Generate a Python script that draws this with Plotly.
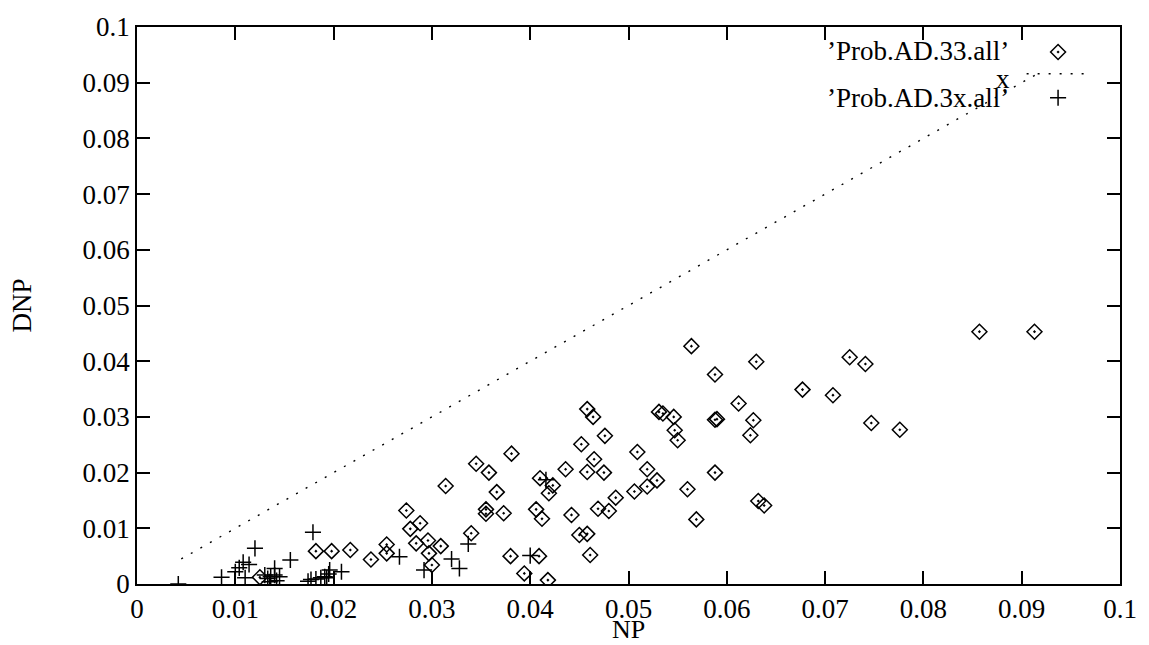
import plotly.graph_objects as go

# ---- data: 'Prob.AD.33.all' (diamonds) ----
np33_x = [0.0857, 0.0913, 0.0725, 0.0741, 0.0677, 0.0708, 0.0747, 0.0776, 0.0564, 0.0630,
          0.0588, 0.0612, 0.0531, 0.0535, 0.0546, 0.0588, 0.0590, 0.0627, 0.0547, 0.0550,
          0.0624, 0.0476, 0.0509, 0.0475, 0.0519, 0.0529, 0.0519, 0.0506, 0.0588, 0.0560,
          0.0487, 0.0480, 0.0632, 0.0638, 0.0569, 0.0458, 0.0464, 0.0452, 0.0465, 0.0381,
          0.0345, 0.0358, 0.0436, 0.0458, 0.0314, 0.0410, 0.0423, 0.0419, 0.0366, 0.0274,
          0.0288, 0.0278, 0.0284, 0.0296, 0.0309, 0.0297, 0.0300, 0.0254, 0.0254, 0.0238,
          0.0340, 0.0355, 0.0355, 0.0373, 0.0406, 0.0412, 0.0442, 0.0469, 0.0450, 0.0458,
          0.0461, 0.0380, 0.0409, 0.0394, 0.0418, 0.0182, 0.0198, 0.0217, 0.0125]
dnp33_y = [0.0453, 0.0453, 0.0407, 0.0395, 0.0349, 0.0339, 0.0289, 0.0277, 0.0427, 0.0399,
           0.0376, 0.0324, 0.0309, 0.0306, 0.0300, 0.0295, 0.0296, 0.0294, 0.0276, 0.0258,
           0.0267, 0.0266, 0.0237, 0.0200, 0.0206, 0.0186, 0.0175, 0.0166, 0.0200, 0.0170,
           0.0155, 0.0131, 0.0149, 0.0141, 0.0116, 0.0314, 0.0300, 0.0251, 0.0224, 0.0234,
           0.0216, 0.0200, 0.0206, 0.0201, 0.0176, 0.0190, 0.0177, 0.0163, 0.0165, 0.0132,
           0.0109, 0.0099, 0.0073, 0.0078, 0.0068, 0.0055, 0.0034, 0.0071, 0.0055, 0.0044,
           0.0091, 0.0134, 0.0126, 0.0127, 0.0134, 0.0117, 0.0124, 0.0135, 0.0088, 0.0090,
           0.0052, 0.0050, 0.0050, 0.0019, 0.0007, 0.0059, 0.0059, 0.0061, 0.0012]

# ---- data: 'Prob.AD.3x.all' (plus signs) ----
np3x_x = [0.0042, 0.0086, 0.0120, 0.0100, 0.0104, 0.0108, 0.0114, 0.0110, 0.0130, 0.0133,
          0.0136, 0.0140, 0.0140, 0.0135, 0.0142, 0.0145, 0.0156, 0.0179, 0.0174, 0.0177,
          0.0182, 0.0187, 0.0191, 0.0195, 0.0196, 0.0208, 0.0193, 0.0267, 0.0292, 0.0320,
          0.0328, 0.0337, 0.0400, 0.0416]
dnp3x_y = [0.0000, 0.0012, 0.0064, 0.0022, 0.0029, 0.0039, 0.0035, 0.0011, 0.0016, 0.0010,
           0.0013, 0.0016, 0.0028, 0.0004, 0.0006, 0.0013, 0.0043, 0.0093, 0.0005, 0.0008,
           0.0009, 0.0011, 0.0013, 0.0018, 0.0025, 0.0022, 0.0011, 0.0049, 0.0025, 0.0045,
           0.0028, 0.0072, 0.0051, 0.0187]

# ---- data: reference line y = x ----
line_x = [0.0045, 0.0916]
line_y = [0.0045, 0.0916]

tick_vals = [0, 0.01, 0.02, 0.03, 0.04, 0.05, 0.06, 0.07, 0.08, 0.09, 0.1]
tick_text = ["0", "0.01", "0.02", "0.03", "0.04", "0.05", "0.06", "0.07", "0.08", "0.09", "0.1"]

legend_labels = ["\u2019Prob.AD.33.all\u2019", "\u2019Prob.AD.3x.all\u2019", "x"]
x_title = "NP"
y_title = "DNP"

FONT = "Liberation Serif"
FS = 27

fig = go.Figure()

fig.add_trace(go.Scatter(
    x=line_x, y=line_y, mode="lines",
    line=dict(color="black", width=1.4, dash="2px,9px"),
    showlegend=False, hoverinfo="skip"))

fig.add_trace(go.Scatter(
    x=np33_x, y=dnp33_y, mode="markers",
    marker=dict(symbol="diamond-open-dot", size=11.5, color="black",
                line=dict(color="black", width=1.5)),
    showlegend=False))

fig.add_trace(go.Scatter(
    x=np3x_x, y=dnp3x_y, mode="markers",
    marker=dict(symbol="cross-thin-open", size=11.5, color="black",
                line=dict(color="black", width=1.5)),
    showlegend=False))

# key samples (gnuplot style: label then sample)
fig.add_trace(go.Scatter(
    x=[0.0937], y=[0.0955], mode="markers",
    marker=dict(symbol="diamond-open-dot", size=11.5, color="black",
                line=dict(color="black", width=1.5)),
    showlegend=False, hoverinfo="skip"))
fig.add_trace(go.Scatter(
    x=[0.0937], y=[0.0873], mode="markers",
    marker=dict(symbol="cross-thin-open", size=11.5, color="black",
                line=dict(color="black", width=1.5)),
    showlegend=False, hoverinfo="skip"))
fig.add_shape(type="line", xref="x", yref="y", x0=0.0905, x1=0.0967, y0=0.0916, y1=0.0916,
              line=dict(color="black", width=1.4, dash="2px,9px"))

fig.add_annotation(x=0.0889, y=0.0957, xref="x", yref="y", text=legend_labels[0],
                   showarrow=False, xanchor="right", yanchor="middle",
                   font=dict(family=FONT, size=FS, color="black"))
fig.add_annotation(x=0.0889, y=0.0872, xref="x", yref="y", text=legend_labels[1],
                   showarrow=False, xanchor="right", yanchor="middle",
                   font=dict(family=FONT, size=FS, color="black"))
fig.add_annotation(x=0.0881, y=0.0907, xref="x", yref="y", text=legend_labels[2],
                   showarrow=False, xanchor="center", yanchor="middle",
                   font=dict(family=FONT, size=FS, color="black"))

# axis titles
fig.add_annotation(x=0.5, y=-0.081, xref="paper", yref="paper", text=x_title,
                   showarrow=False, xanchor="center", yanchor="middle",
                   font=dict(family=FONT, size=26, color="black"))
fig.add_annotation(x=-0.117, y=0.5, xref="paper", yref="paper", text=y_title,
                   showarrow=False, xanchor="center", yanchor="middle", textangle=-90,
                   font=dict(family=FONT, size=FS, color="black"))

axis_common = dict(
    range=[0, 0.1], tickvals=tick_vals, ticktext=tick_text,
    ticks="inside", ticklen=13, tickwidth=1.5, tickcolor="black",
    showline=True, linecolor="black", linewidth=1.5, mirror="ticks",
    showgrid=False, zeroline=False,
    tickfont=dict(family=FONT, size=FS, color="black"),
)

fig.update_layout(
    width=1149, height=645,
    margin=dict(l=137, r=28, t=18, b=61),
    paper_bgcolor="white", plot_bgcolor="white",
    xaxis=dict(axis_common),
    yaxis=dict(axis_common),
    showlegend=False,
)

fig.write_html("out.html")
